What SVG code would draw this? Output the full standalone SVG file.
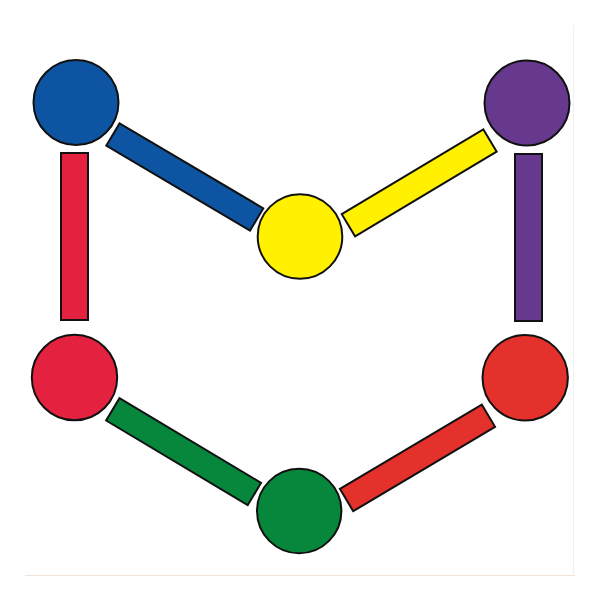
<svg xmlns="http://www.w3.org/2000/svg" width="600" height="600" viewBox="0 0 600 600">
<style>
.n{stroke:#111;stroke-width:2}
.b{stroke:#111;stroke-width:2}
</style>
<rect width="600" height="600" fill="#fff"/>
<line x1="25" y1="575.5" x2="575" y2="575.5" stroke="#f3e2d6" stroke-width="1.2"/>
<line x1="573.5" y1="25" x2="573.5" y2="575" stroke="#f0f0f0" stroke-width="1"/>
<g id="connectors">
<rect class="b" x="61" y="153" width="27" height="167" fill="#e4213f"/>
<rect class="b" x="515" y="154" width="27" height="167" fill="#66398f"/>
<rect class="b" x="-83.5" y="-13" width="167" height="26" fill="#0d55a3" transform="translate(184.8,177) rotate(30.6)"/>
<rect class="b" x="-82.5" y="-13" width="165" height="26" fill="#fff100" transform="translate(419.2,182.9) rotate(-30.9)"/>
<rect class="b" x="-82.5" y="-13" width="165" height="26" fill="#06873c" transform="translate(183.6,451.7) rotate(30.9)"/>
<rect class="b" x="-82.5" y="-13" width="165" height="26" fill="#e5312c" transform="translate(417.5,457.9) rotate(-30.7)"/>
</g>
<g id="node-blue"><circle class="n" cx="76" cy="102.5" r="42.5" fill="#0d55a3"/></g>
<g id="node-purple"><circle class="n" cx="527" cy="103" r="42.5" fill="#66398f"/></g>
<g id="node-yellow"><circle class="n" cx="300" cy="236.5" r="42.3" fill="#fff100"/></g>
<g id="node-crimson"><circle class="n" cx="74.5" cy="377.5" r="42.7" fill="#e4213f"/></g>
<g id="node-red"><circle class="n" cx="525.2" cy="377.8" r="42.7" fill="#e5312c"/></g>
<g id="node-green"><circle class="n" cx="299.2" cy="511" r="42.2" fill="#06873c"/></g>
</svg>
